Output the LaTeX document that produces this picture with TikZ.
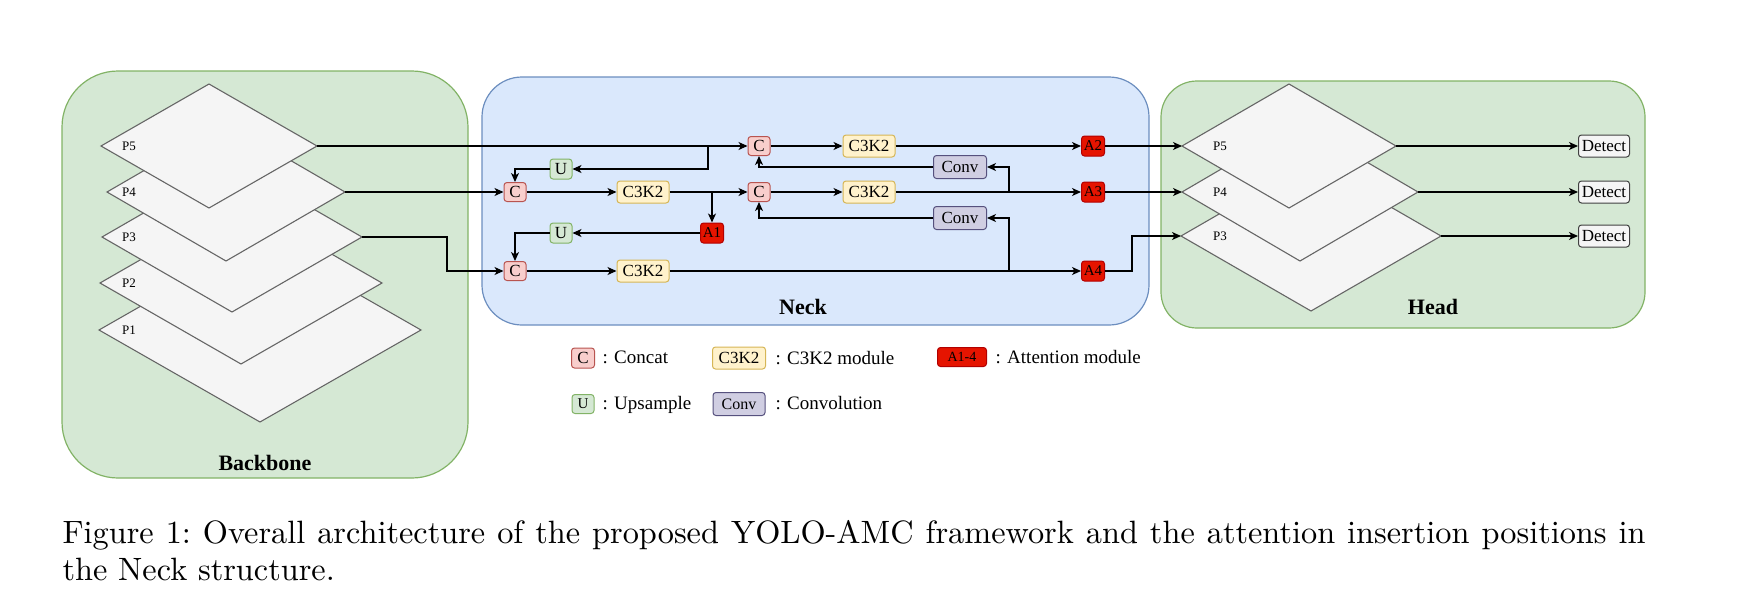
\documentclass[tikz,border=0pt]{standalone}
\usepackage{fontspec}
\newfontfamily\tnr{Liberation Serif}
\newfontfamily\capfont{lmroman10-regular}[Extension=.otf]
\usepackage{xcolor}
\usetikzlibrary{arrows.meta}

\definecolor{grnfill}{HTML}{D5E8D4}
\definecolor{grnline}{HTML}{82B366}
\definecolor{blufill}{HTML}{DAE8FC}
\definecolor{bluline}{HTML}{6C8EBF}
\definecolor{redfill}{HTML}{F8CECC}
\definecolor{redline}{HTML}{B85450}
\definecolor{ylwfill}{HTML}{FFF2CC}
\definecolor{ylwline}{HTML}{D6B656}
\definecolor{prpfill}{HTML}{D0CEE2}
\definecolor{prpline}{HTML}{56517E}
\definecolor{attfill}{HTML}{E51400}
\definecolor{attline}{HTML}{B20000}
\definecolor{gryfill}{HTML}{F5F5F5}
\definecolor{gryline}{HTML}{666666}

\begin{document}
\begin{tikzpicture}[x=1pt,y=-1pt,
    >={Stealth[length=9pt,width=8pt,inset=2.5pt]},
    line width=1.2pt,
    blk/.style={draw,rounded corners=3pt,inner sep=0pt,line width=1pt,font=\tnr\fontsize{17}{17}\selectfont},
    cat/.style={blk,fill=redfill,draw=redline,minimum width=22pt,minimum height=19pt},
    ups/.style={blk,fill=grnfill,draw=grnline,minimum width=22pt,minimum height=20pt},
    ckt/.style={blk,fill=ylwfill,draw=ylwline,minimum width=52pt,minimum height=22pt},
    cnv/.style={blk,fill=prpfill,draw=prpline,minimum width=53pt,minimum height=23pt},
    att/.style={blk,fill=attfill,draw=attline,minimum width=23pt,minimum height=20pt,font=\tnr\fontsize{15}{15}\selectfont},
    det/.style={blk,fill=gryfill,draw=black!75,minimum width=51pt,minimum height=22pt},
    layer/.style={draw=gryline,fill=gryfill,line width=1.1pt},
    plbl/.style={font=\tnr\fontsize{13}{13}\selectfont},
    grplbl/.style={font=\tnr\bfseries\fontsize{22}{22}\selectfont},
    lgd/.style={anchor=west,inner sep=0pt,font=\tnr\fontsize{19}{19}\selectfont}]

    \useasboundingbox (0,0) rectangle (1757,603);

    \draw [fill=grnfill,draw=grnline,rounded corners=56pt] (62,71) rectangle (468,478);
    \draw [fill=blufill,draw=bluline,rounded corners=40pt] (482,77) rectangle (1149,325);
    \draw [fill=grnfill,draw=grnline,rounded corners=36pt] (1161,81) rectangle (1645,328);

    \node [grplbl] (bbl) at (265,463) {Backbone};
    \node [grplbl] (nkl) at (803,307) {Neck};
    \node [grplbl] (hdl) at (1433,307) {Head};

    \draw [layer] (99,330)--(260,238)--(421,330)--(260,422)--cycle;
    \draw [layer] (100,283)--(241,202)--(382,283)--(241,364)--cycle;
    \draw [layer] (102,237)--(232,162)--(362,237)--(232,312)--cycle;
    \draw [layer] (107,192)--(226,123)--(345,192)--(226,261)--cycle;
    \draw [layer] (101,146)--(209,84)--(317,146)--(209,208)--cycle;
    \coordinate (bb3) at (362,237);
    \coordinate (bb4) at (345,192);
    \coordinate (bb5) at (317,146);
    \node [plbl] (bp1) at (129,330) {P1};
    \node [plbl] (bp2) at (129,283) {P2};
    \node [plbl] (bp3) at (129,237) {P3};
    \node [plbl] (bp4) at (129,192) {P4};
    \node [plbl] (bp5) at (129,146) {P5};

    \draw [layer] (1181,236)--(1311,161)--(1441,236)--(1311,311)--cycle;
    \draw [layer] (1182,192)--(1300,123)--(1418,192)--(1300,261)--cycle;
    \draw [layer] (1182,146)--(1289,84)--(1396,146)--(1289,208)--cycle;
    \coordinate (hd3) at (1181,236);
    \coordinate (hd4) at (1182,192);
    \coordinate (hd5) at (1182,146);
    \coordinate (hr3) at (1441,236);
    \coordinate (hr4) at (1418,192);
    \coordinate (hr5) at (1396,146);
    \node [plbl] (hp3) at (1220,236) {P3};
    \node [plbl] (hp4) at (1220,192) {P4};
    \node [plbl] (hp5) at (1220,146) {P5};

    \node [cat] (cat1) at (759,146) {C};
    \node [cat] (cat2) at (515,192) {C};
    \node [cat] (cat3) at (759,192) {C};
    \node [cat] (cat4) at (515,271) {C};
    \node [ups] (up1) at (561,169) {U};
    \node [ups] (up2) at (561,233) {U};
    \node [ckt] (ck1) at (643,192) {C3K2};
    \node [ckt] (ck2) at (643,271) {C3K2};
    \node [ckt] (ck3) at (869,146) {C3K2};
    \node [ckt] (ck4) at (869,192) {C3K2};
    \node [cnv] (cv1) at (960,167) {Conv};
    \node [cnv] (cv2) at (960,218) {Conv};
    \node [att] (att1) at (712,233) {A1};
    \node [att] (att2) at (1093,146) {A2};
    \node [att] (att3) at (1093,192) {A3};
    \node [att] (att4) at (1093,271) {A4};
    \node [det] (det5) at (1604,146) {Detect};
    \node [det] (det4) at (1604,192) {Detect};
    \node [det] (det3) at (1604,236) {Detect};

    \coordinate (j1) at (708,146);
    \coordinate (j2) at (712,192);
    \coordinate (j3) at (1009,192);
    \coordinate (j4) at (1009,271);

    \draw [->] (bb5)--(cat1);
    \draw [->] (j1) |- (up1);
    \draw [->] (up1) -| (cat2);
    \draw [->] (bb4)--(cat2);
    \draw [->] (cat2)--(ck1);
    \draw [->] (ck1)--(cat3);
    \draw [->] (j2)--(att1);
    \draw [->] (att1)--(up2);
    \draw [->] (up2) -| (cat4);
    \draw [->] (bb3)--++(85,0) |- (cat4);
    \draw [->] (cat4)--(ck2);
    \draw [->] (ck2)--(att4);
    \draw [->] (j4) |- (cv2);
    \draw [->] (cv2) -| (cat3);
    \draw [->] (cat3)--(ck4);
    \draw [->] (ck4)--(att3);
    \draw [->] (j3) |- (cv1);
    \draw [->] (cv1) -| (cat1);
    \draw [->] (cat1)--(ck3);
    \draw [->] (ck3)--(att2);
    \draw [->] (att2)--(hd5);
    \draw [->] (att3)--(hd4);
    \draw [->] (att4)--++(39,0) |- (hd3);
    \draw [->] (hr5)--(det5);
    \draw [->] (hr4)--(det4);
    \draw [->] (hr3)--(det3);

    \node [cat,minimum width=23pt,minimum height=20pt] (lgc) at (583,358) {C};
    \node [ckt,minimum width=53pt] (lgk) at (739,358) {C3K2};
    \node [att,minimum width=49pt,minimum height=19pt,font=\tnr\fontsize{14}{14}\selectfont] (lga) at (962,357) {A1-4};
    \node [ups,minimum height=19pt,font=\tnr\fontsize{15}{15}\selectfont] (lgu) at (583,404) {U};
    \node [cnv,minimum width=52pt,font=\tnr\fontsize{16}{16}\selectfont] (lgv) at (739,404) {Conv};
    \node [lgd] (lgct) at (602,357) {: Concat};
    \node [lgd] (lgkt) at (775,358) {: C3K2 module};
    \node [lgd] (lgat) at (995,357) {: Attention module};
    \node [lgd] (lgut) at (602,405) {: Upsample};
    \node [lgd] (lgvt) at (775,403) {: Convolution};

    \node [anchor=base west,inner sep=0pt,text width=1583pt,align=justify,font=\capfont\fontsize{32.3}{37}\selectfont] (cap) at (62,543) {Figure 1:\ Overall architecture of the proposed YOLO-AMC framework and the attention insertion positions in\linebreak the Neck structure.};

\end{tikzpicture}
\end{document}
